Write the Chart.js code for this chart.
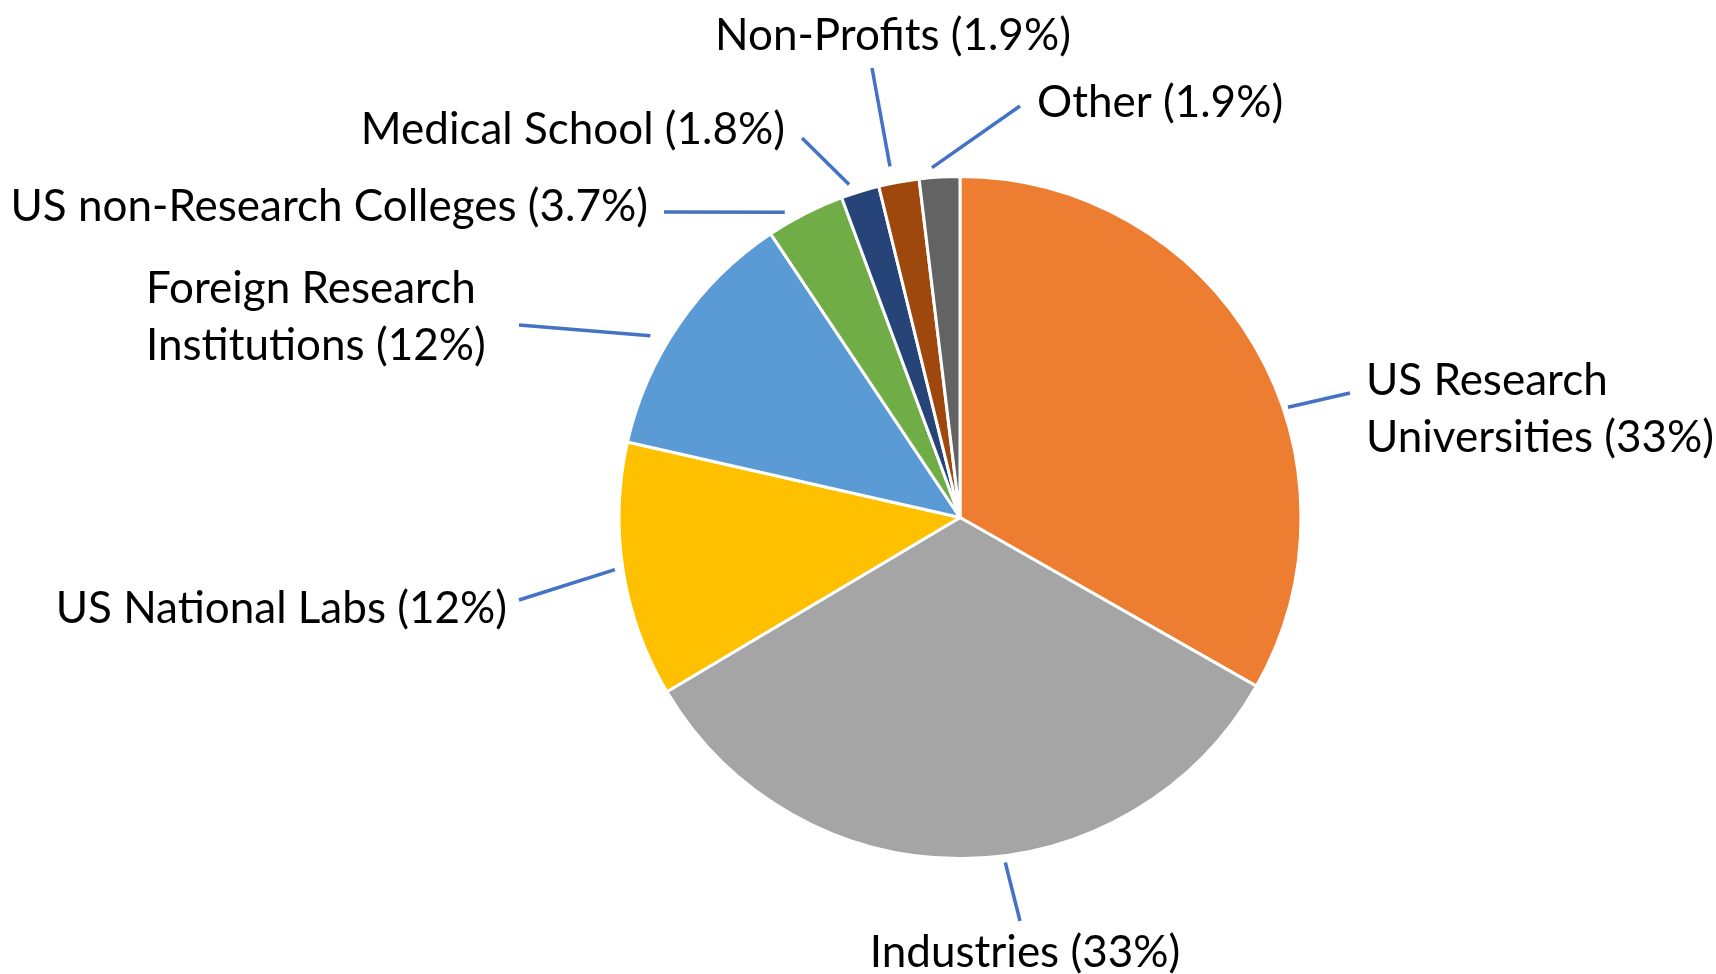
<!DOCTYPE html>
<html lang="en">
<head>
  <meta charset="UTF-8">
  <title>Funding by institution type</title>
  <script src="https://cdn.jsdelivr.net/npm/chart.js"></script>
  <style>
    html, body { margin: 0; padding: 0; background: #fff; }
    #wrap { width: 1716px; height: 974px; }
  </style>
</head>
<body>
<div id="wrap">
  <canvas id="pieChart" width="1716" height="974"></canvas>
</div>

<script>
  // data, clockwise from 12 o'clock
  const categories = [
    'US Research Universities',
    'Industries',
    'US National Labs',
    'Foreign Research Institutions',
    'US non-Research Colleges',
    'Medical School',
    'Non-Profits',
    'Other'
  ];
  const shares = [33, 33, 12, 12, 3.7, 1.8, 1.9, 1.9];
  // how each category name wraps in its callout
  const labelLines = [
    ['US Research', 'Universities'],
    ['Industries'],
    ['US National Labs'],
    ['Foreign Research', 'Institutions'],
    ['US non-Research Colleges'],
    ['Medical School'],
    ['Non-Profits'],
    ['Other']
  ];

  const sliceColors = ['#ED7D31', '#A5A5A5', '#FFC000', '#5B9BD5', '#70AD47', '#264478', '#9E480E', '#636363'];

  // callout placement: text anchor, baseline of first line, leader end near the text,
  // t = where along the slice the leader touches, gap = distance from pie edge
  const callouts = [
    { x: 1366, y: 395, align: 'left',   end: [1350, 393], t: 0.597, gap: 5 },
    { x: 1025, y: 967, align: 'center', end: [1020, 921], t: 0.442, gap: 7 },
    { x: 507,  y: 623, align: 'right',  end: [519, 600],  t: 0.509, gap: 8 },
    { x: 146,  y: 303, align: 'left',   end: [519, 325],  t: 0.405, gap: 18 },
    { x: 648,  y: 221, align: 'right',  end: [664, 212],  t: 0.288, gap: 11 },
    { x: 785,  y: 144, align: 'right',  end: [802, 138],  t: 0.287, gap: 10 },
    { x: 893,  y: 50,  align: 'center', end: [872, 68],   t: 0.362, gap: 17 },
    { x: 1037, y: 117, align: 'left',   end: [1020, 106], t: 0.336, gap: 10 }
  ];
  const lineHeight = 57;
  const labelFont = '44px Lato';

  const calloutPlugin = {
    id: 'callouts',
    afterDraw(chart) {
      const ctx = chart.ctx;
      const arcs = chart.getDatasetMeta(0).data;
      ctx.save();
      arcs.forEach((arc, i) => {
        const c = callouts[i];
        const p = arc.getProps(['x', 'y', 'startAngle', 'endAngle', 'outerRadius'], true);
        const a = p.startAngle + c.t * (p.endAngle - p.startAngle);
        const r = p.outerRadius + c.gap;
        ctx.strokeStyle = '#4472C4';
        ctx.lineWidth = 3.5;
        ctx.beginPath();
        ctx.moveTo(c.end[0], c.end[1]);
        ctx.lineTo(p.x + Math.cos(a) * r, p.y + Math.sin(a) * r);
        ctx.stroke();

        const lines = labelLines[i].slice();
        lines[lines.length - 1] += ' (' + shares[i] + '%)';
        ctx.fillStyle = '#000';
        ctx.font = labelFont;
        ctx.textAlign = c.align;
        ctx.textBaseline = 'alphabetic';
        lines.forEach((txt, k) => ctx.fillText(txt, c.x, c.y + k * lineHeight));
      });
      ctx.restore();
    }
  };

  new Chart(document.getElementById('pieChart'), {
    type: 'pie',
    data: {
      labels: categories,
      datasets: [{
        data: shares,
        backgroundColor: sliceColors,
        borderColor: '#fff',
        borderWidth: 3
      }]
    },
    options: {
      responsive: false,
      animation: false,
      layout: { padding: { left: 617, right: 413, top: 175, bottom: 114 } },
      plugins: {
        legend: { display: false },
        tooltip: { enabled: false }
      }
    },
    plugins: [calloutPlugin]
  });
</script>
</body>
</html>
